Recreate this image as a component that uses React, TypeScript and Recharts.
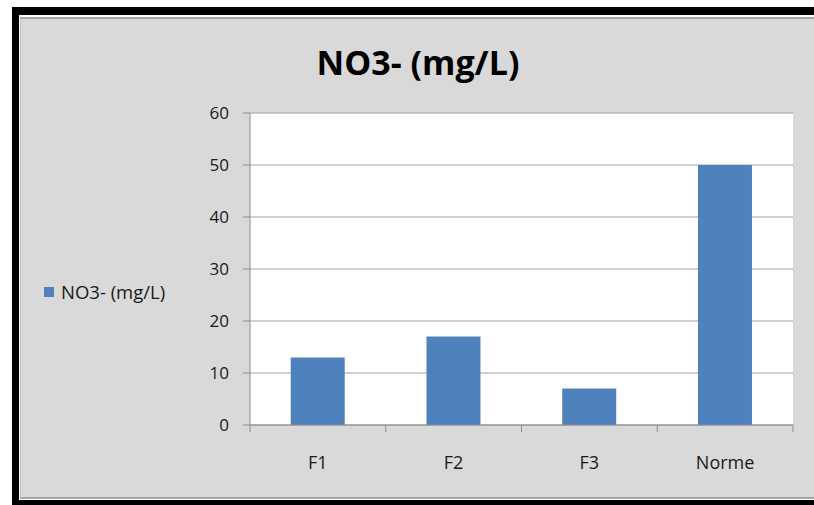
import React from 'react';
import { Bar, BarChart, CartesianGrid, Legend, XAxis, YAxis } from 'recharts';

// NO3- concentrations per sample, plus the regulatory limit ("Norme").
const categories = ['F1', 'F2', 'F3', 'Norme'];
const no3Values = [13, 17, 7, 50];
const yTicks = [0, 10, 20, 30, 40, 50, 60];

const seriesName = 'NO3- (mg/L)';
const barColor = '#4f81bd';
const gridColor = '#a0a0a0';
const font = '"Open Sans", sans-serif';

const data = categories.map((name, i) => ({ name, value: no3Values[i] }));

// Excel puts x ticks between categories, recharts puts them in the middle.
// So the label tick draws its own boundary marks.
const X_TICK_OFFSET = 30;

function CategoryTick(props: any) {
  const { x, y, payload, index } = props;
  const half = payload.offset ?? 0;
  const axisY = y - X_TICK_OFFSET;
  const last = index === categories.length - 1;
  return (
    <g>
      <line x1={x - half} x2={x - half} y1={axisY} y2={axisY + 7} stroke="#8c8c8c" />
      {last && <line x1={x + half} x2={x + half} y1={axisY} y2={axisY + 7} stroke="#8c8c8c" />}
      <text
        x={x}
        y={axisY + 37}
        textAnchor="middle"
        dominantBaseline="central"
        fontFamily={font}
        fontSize={18}
        fill="#1a1a1a"
      >
        {payload.value}
      </text>
    </g>
  );
}

function LegendBox() {
  return (
    <div style={{ display: 'flex', alignItems: 'center', fontFamily: font, fontSize: 18.5, color: '#1a1a1a' }}>
      <span style={{ width: 10, height: 10, background: barColor, marginRight: 7 }} />
      <span style={{ whiteSpace: 'pre' }}>{seriesName}</span>
    </div>
  );
}

export default function App() {
  return (
    <div style={{ position: 'absolute', left: 0, top: 0, width: 814, height: 505, background: '#fff', overflow: 'hidden' }}>
      {/* black screenshot frame + grey chart area */}
      <div style={{ position: 'absolute', left: 12, top: 7, width: 802, height: 498, background: '#000' }} />
      <div style={{ position: 'absolute', left: 19, top: 15, width: 795, height: 485, background: '#fff' }} />
      <div
        style={{
          position: 'absolute',
          left: 20,
          top: 17,
          width: 794,
          height: 482,
          background: '#d9d9d9',
          borderTop: '2px solid #a6a6a6',
          borderBottom: '2px solid #a6a6a6',
          borderLeft: '1px solid #c0c0c0',
          boxSizing: 'border-box',
        }}
      />

      <div
        style={{
          position: 'absolute',
          left: 0,
          top: 40,
          width: 836,
          textAlign: 'center',
          fontFamily: font,
          fontWeight: 700,
          fontSize: 34,
          color: '#000',
          lineHeight: '44px',
        }}
      >
        {seriesName}
      </div>

      <div style={{ position: 'absolute', left: 0, top: 0 }}>
        <BarChart
          width={814}
          height={505}
          data={data}
          margin={{ top: 113, right: 21, bottom: 40, left: 190 }}
          barCategoryGap="30%"
        >
          <CartesianGrid vertical={false} stroke={gridColor} fill="#fff" fillOpacity={1} />
          <XAxis
            dataKey="name"
            height={40}
            axisLine={{ stroke: '#8c8c8c' }}
            tickLine={false}
            tickSize={0}
            tickMargin={X_TICK_OFFSET}
            interval={0}
            tick={<CategoryTick />}
          />
          <YAxis
            width={60}
            domain={[0, 60]}
            ticks={yTicks}
            interval={0}
            axisLine={{ stroke: '#8c8c8c' }}
            tickLine={{ stroke: '#8c8c8c' }}
            tickSize={7}
            tickMargin={14}
            tick={{ fontFamily: font, fontSize: 17, fill: '#1a1a1a' }}
          />
          {/* centre/middle so recharts reserves no margin for it; placed by wrapperStyle */}
          <Legend
            layout="horizontal"
            verticalAlign="middle"
            align="center"
            content={<LegendBox />}
            wrapperStyle={{ left: 44, top: 279, width: 160 }}
          />
          <Bar dataKey="value" name={seriesName} fill={barColor} isAnimationActive={false} />
        </BarChart>
      </div>
    </div>
  );
}
